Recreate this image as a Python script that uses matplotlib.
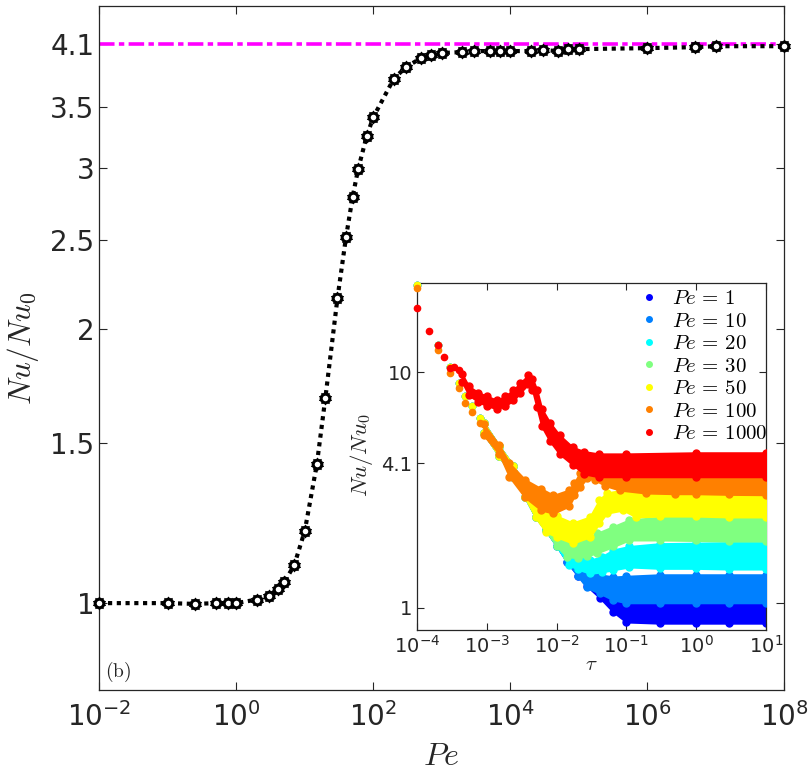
import matplotlib
matplotlib.use("Agg")
import matplotlib.pyplot as plt
import numpy as np

# ---------------- main panel data ----------------
pe = [0.01, 0.1, 0.25, 0.5, 0.75, 1, 2, 3, 4, 5, 7, 10, 15, 20, 30, 40, 50, 60, 80,
      100, 200, 300, 500, 700, 1000, 2000, 3000, 5000, 7000, 1e4, 2e4, 3e4, 5e4,
      7e4, 1e5, 1e6, 5e6, 1e7, 1e8]
nu_ratio = [1.0, 1.0, 0.998, 1.0, 1.0, 1.0, 1.009, 1.019, 1.035, 1.054, 1.10, 1.20,
            1.42, 1.68, 2.16, 2.52, 2.79, 2.99, 3.25, 3.41, 3.76, 3.87, 3.96, 3.99,
            4.01, 4.02, 4.03, 4.03, 4.03, 4.03, 4.03, 4.04, 4.03, 4.05, 4.05, 4.06,
            4.07, 4.08, 4.08]
asymptote = 4.1
main_yticks = [1, 1.5, 2, 2.5, 3, 3.5, 4.1]
main_yticklabels = ["1", "1.5", "2", "2.5", "3", "3.5", "4.1"]

# ---------------- inset data ----------------
legend_pe = [1, 10, 20, 30, 50, 100, 1000]
colors = ["#0000ff", "#0080ff", "#00ffff", "#80ff80", "#ffff00", "#ff8000", "#ff0000"]

early_tau = [1e-4, 2e-4, 2.94e-4, 4.0e-4, 4.8e-4, 6.0e-4, 7.9e-4]
early_val = [23.5, 13.0, 10.5, 9.0, 7.9, 7.2, 6.4]
early_val_pe100 = [22.8, 12.4, 9.9, 8.6, 7.4, 6.8, 6.1]
early_tau_pe1000 = [1e-4, 1.49e-4, 2e-4, 2.44e-4, 2.94e-4, 3.4e-4, 4.0e-4]
early_val_pe1000 = [18.7, 14.9, 13.0, 11.6, 10.4, 10.5, 10.2]

tau_pe1 = [9e-4, 1.5e-3, 2.4e-3, 3.5e-3, 5e-3, 7e-3, 1e-2, 1.4e-2, 2e-2, 2.7e-2, 4.2e-2, 6.5e-2, 0.1, 0.3, 1, 3, 10]
lo_pe1 = [5.5, 4.4, 3.6, 2.95, 2.42, 2.13, 1.83, 1.57, 1.37, 1.24, 1.10, 0.96, 0.87, 0.86, 0.86, 0.86, 0.86]
hi_pe1 = [6.1, 4.85, 4.0, 3.27, 2.7, 2.38, 2.04, 1.75, 1.53, 1.38, 1.23, 1.15, 1.10, 1.10, 1.10, 1.10, 1.10]

tau_pe10 = [9e-4, 1.5e-3, 2.4e-3, 3.5e-3, 5e-3, 7e-3, 1e-2, 1.4e-2, 2e-2, 2.7e-2, 4.2e-2, 6.5e-2, 0.1, 0.3, 1, 3, 10]
lo_pe10 = [5.5, 4.4, 3.6, 2.95, 2.42, 2.13, 1.83, 1.57, 1.37, 1.22, 1.15, 1.08, 1.05, 1.05, 1.05, 1.05, 1.05]
hi_pe10 = [6.1, 4.85, 4.0, 3.27, 2.7, 2.38, 2.04, 1.75, 1.53, 1.42, 1.38, 1.35, 1.36, 1.38, 1.38, 1.38, 1.38]

tau_pe20 = [9e-4, 1.5e-3, 2.4e-3, 3.5e-3, 5e-3, 7e-3, 1e-2, 1.5e-2, 2e-2, 3e-2, 4.5e-2, 6.5e-2, 0.11, 0.3, 1, 3, 10]
lo_pe20 = [5.5, 4.4, 3.6, 2.95, 2.42, 2.13, 1.83, 1.52, 1.46, 1.40, 1.42, 1.45, 1.49, 1.47, 1.47, 1.46, 1.46]
hi_pe20 = [6.1, 4.85, 4.0, 3.27, 2.7, 2.38, 2.04, 1.74, 1.66, 1.59, 1.65, 1.76, 1.82, 1.87, 1.88, 1.89, 1.89]

tau_pe30 = [9e-4, 1.5e-3, 2.4e-3, 3.5e-3, 5e-3, 7e-3, 1e-2, 1.4e-2, 2e-2, 2.7e-2, 3.8e-2, 6.5e-2, 0.11, 0.3, 1, 3, 10]
lo_pe30 = [5.5, 4.4, 3.6, 2.95, 2.42, 2.13, 1.83, 1.65, 1.63, 1.66, 1.71, 1.82, 1.94, 1.94, 1.93, 1.92, 1.92]
hi_pe30 = [6.1, 4.85, 4.0, 3.27, 2.7, 2.38, 2.04, 1.94, 1.90, 1.95, 2.07, 2.21, 2.36, 2.42, 2.42, 2.42, 2.42]

tau_pe50 = [9e-4, 1.5e-3, 2.4e-3, 3.5e-3, 5e-3, 7e-3, 1e-2, 1.7e-2, 3e-2, 4.1e-2, 5.2e-2, 9e-2, 0.137, 0.3, 1, 3, 10]
lo_pe50 = [5.5, 4.4, 3.6, 2.95, 2.42, 2.1, 2.0, 1.88, 2.0, 2.29, 2.52, 2.6, 2.43, 2.45, 2.45, 2.43, 2.43]
hi_pe50 = [6.1, 4.85, 4.0, 3.27, 2.7, 2.55, 2.45, 2.29, 2.43, 2.87, 3.07, 3.16, 3.07, 3.15, 3.16, 3.16, 3.16]

tau_pe100 = [9e-4, 1.5e-3, 2.1e-3, 3.5e-3, 6e-3, 9e-3, 1.5e-2, 1.8e-2, 2.15e-2, 2.7e-2, 3.5e-2, 5e-2, 8e-2, 0.19, 0.5, 1, 3, 10]
lo_pe100 = [5.4, 4.5, 3.6, 2.95, 2.6, 2.52, 2.7, 3.0, 3.26, 3.55, 3.5, 3.3, 3.16, 3.07, 3.05, 3.05, 3.03, 3.02]
hi_pe100 = [6.0, 4.9, 4.1, 3.5, 3.2, 3.0, 3.16, 3.4, 3.73, 3.92, 3.9, 3.8, 3.75, 3.6, 3.72, 3.73, 3.73, 3.73]

tau_pe1000 = [4.4e-4, 5.5e-4, 7.5e-4, 1.0e-3, 1.4e-3, 1.8e-3, 2.4e-3, 3.0e-3, 3.9e-3, 4.5e-3, 5.2e-3, 6.1e-3, 8e-3, 1.1e-2, 1.7e-2, 2.5e-2, 4e-2, 0.1, 1, 10]
lo_pe1000 = [9.1, 8.0, 7.5, 7.2, 7.0, 7.2, 7.6, 8.2, 8.9, 8.4, 7.1, 5.9, 5.1, 4.5, 4.05, 3.7, 3.6, 3.6, 3.6, 3.6]
hi_pe1000 = [9.8, 8.7, 8.2, 7.9, 7.6, 7.9, 8.4, 9.0, 9.7, 9.4, 8.4, 7.0, 6.1, 5.4, 4.8, 4.6, 4.5, 4.5, 4.55, 4.55]

inset_yticks = [1, 4.1, 10]
inset_yticklabels = ["1", "4.1", "10"]

# ---------------- figure ----------------
dark = "#262626"
plt.rcParams["font.family"] = ["DejaVu Sans"]
plt.rcParams["axes.edgecolor"] = dark
plt.rcParams["xtick.color"] = dark
plt.rcParams["ytick.color"] = dark

fig = plt.figure(figsize=(8.09, 7.76), dpi=100)
ax = fig.add_axes([0.1227, 0.1108, 0.8468, 0.8815])

ax.axhline(asymptote, color="#ff00ff", lw=2.6, linestyle=(0, (4.3, 1.2, 1.5, 1.2)), zorder=2)
ax.plot(pe, nu_ratio, color="black", lw=3, linestyle=(0, (1, 1.1)), zorder=3)
ax.plot(pe, nu_ratio, linestyle="none", marker=(10, 1, 0), ms=9.5, mfc="black",
        mec="black", mew=0.6, clip_on=False, zorder=4)
ax.plot(pe, nu_ratio, linestyle="none", marker="o", ms=6.2, mfc="white", mec="black",
        mew=2.2, clip_on=False, zorder=5)

ax.set_xscale("log")
ax.set_yscale("log")
ax.set_xlim(1e-2, 1e8)
ax.set_ylim(0.803, 4.516)
ax.set_xticks([1e-2, 1e0, 1e2, 1e4, 1e6, 1e8])
ax.xaxis.set_minor_locator(matplotlib.ticker.NullLocator())
ax.set_yticks(main_yticks)
ax.set_yticklabels(main_yticklabels)
ax.yaxis.set_minor_locator(matplotlib.ticker.NullLocator())
ax.tick_params(which="both", direction="in", top=True, right=True, length=6,
               labelsize=20, width=0.8, colors=dark)
ax.tick_params(axis="x", pad=9)
for s in ax.spines.values():
    s.set_linewidth(0.9)
ax.set_xlabel("$Pe$", fontsize=23, math_fontfamily="cm", color=dark)
ax.xaxis.set_label_coords(0.4995, -0.074)
ax.set_ylabel("$Nu/Nu_0$", fontsize=22.5, math_fontfamily="cm", color=dark)
ax.yaxis.set_label_coords(-0.085, 0.5)
ax.text(0.009, 0.026, r"$\mathrm{(b)}$", transform=ax.transAxes, fontsize=14,
        math_fontfamily="cm", ha="left", va="center", color=dark)

# ---------------- inset ----------------
ins = fig.add_axes([0.5158, 0.1881, 0.4307, 0.4476])
ins.set_xscale("log")
ins.set_yscale("log")

bands = [
    (tau_pe1, lo_pe1, hi_pe1),
    (tau_pe10, lo_pe10, hi_pe10),
    (tau_pe20, lo_pe20, hi_pe20),
    (tau_pe30, lo_pe30, hi_pe30),
    (tau_pe50, lo_pe50, hi_pe50),
    (tau_pe100, lo_pe100, hi_pe100),
    (tau_pe1000, lo_pe1000, hi_pe1000),
]
for i, (pv, col, (t, lo, hi)) in enumerate(zip(legend_pe, colors, bands)):
    if pv == 1000:
        ex, ey = early_tau_pe1000, early_val_pe1000
    elif pv == 100:
        ex, ey = early_tau, early_val_pe100
    else:
        ex, ey = early_tau, early_val
    ins.plot(ex, ey, linestyle="none", marker="o", ms=4.5, mfc=col, mec=col,
             clip_on=False, zorder=2 + i)
    ins.fill_between(t, lo, hi, color=col, lw=1.5, edgecolor=col, zorder=2 + i)
    ins.plot(t, lo, linestyle="none", marker="o", ms=5, mfc=col, mec=col, zorder=2 + i)
    ins.plot(t, hi, linestyle="none", marker="o", ms=5, mfc=col, mec=col, zorder=2 + i)
    ins.plot([], [], linestyle="none", marker="o", ms=4, mfc=col, mec=col,
             label=rf"$Pe\,=\,{pv}$")

ins.set_xlim(1e-4, 10)
ins.set_ylim(0.804, 24.0)
ins.set_xticks([1e-4, 1e-3, 1e-2, 1e-1, 1e0, 1e1])
ins.xaxis.set_minor_locator(matplotlib.ticker.NullLocator())
ins.set_yticks(inset_yticks)
ins.set_yticklabels(inset_yticklabels)
ins.yaxis.set_minor_locator(matplotlib.ticker.NullLocator())
ins.tick_params(which="both", direction="in", top=True, right=True, length=5,
                labelsize=14, width=0.8, colors=dark)
for s in ins.spines.values():
    s.set_linewidth(0.9)
ins.set_xlabel(r"$\tau$", fontsize=15, math_fontfamily="cm", color=dark, labelpad=-2)
ins.set_ylabel("$Nu/Nu_0$", fontsize=16.5, math_fontfamily="cm", color=dark)
ins.yaxis.set_label_coords(-0.12, 0.504)
leg = ins.legend(loc="upper left", bbox_to_anchor=(0.6, 1.02), frameon=False,
                 prop={"math_fontfamily": "cm", "size": 15},
                 handlelength=1.0, handletextpad=0.6, labelspacing=0.12, borderaxespad=0.2)

fig.savefig("out.png", dpi=100)
